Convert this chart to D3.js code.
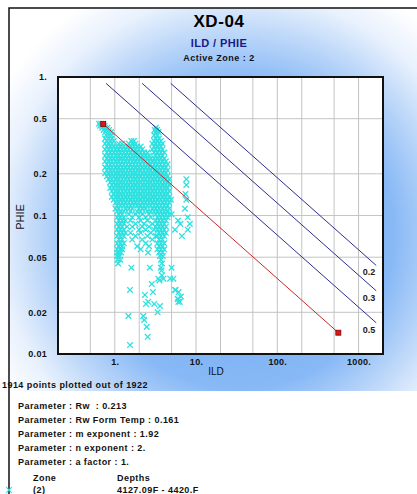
<!DOCTYPE html>
<html><head><meta charset="utf-8">
<script src="https://cdn.jsdelivr.net/npm/d3@7"></script>
<style>
body{margin:0;background:#fff}
svg{display:block;font-family:"Liberation Sans",Arial,sans-serif}
text{white-space:pre}
</style>
</head><body>
<svg id="c" width="417" height="494"></svg>
<script>
// ---------- data ----------
const chartTitle = "XD-04";
const chartSubtitle = "ILD / PHIE";
const activeZone = "Active Zone : 2";
const xLabel = "ILD";
const yLabel = "PHIE";
const xGridValues = [0.5, 1, 2, 5, 10, 20, 50, 100, 200, 500, 1000];
const yGridValues = [0.5, 0.2, 0.1, 0.05, 0.02];
const xTickValues = [1, 10, 100, 1000];
const xTickLabels = ["1.", "10.", "100.", "1000."];
const yTickValues = [1, 0.5, 0.2, 0.1, 0.05, 0.02, 0.01];
const yTickLabels = ["1.", "0.5", "0.2", "0.1", "0.05", "0.02", "0.01"];

// saturation lines (Sw) : start and end points [ILD, PHIE]
const satLabels = ["0.2", "0.3", "0.5"];
const satStart = [[4.88, 0.90], [2.17, 0.90], [0.78, 0.90]];
const satEnd = [[1650, 0.0436], [1650, 0.0286], [1650, 0.0168]];
// water line (Sw = 1)
const waterLine = [[0.72, 0.458], [564, 0.01425]];

// scatter points, grouped by PHIE: [PHIE, [ILD values]]
const cloudRows = [
  [0.46, [0.64, 0.68, 0.72]],
  [0.445, [0.66, 0.70, 0.75]],
  [0.43, [0.70, 0.76, 0.81, 3.2]],
  [0.415, [0.73, 0.79, 0.85, 3.1, 3.3]],
  [0.40, [0.76, 0.84, 0.90, 3.19, 3.45]],
  [0.38, [0.78, 0.85, 0.91, 3.05, 3.35]],
  [0.36, [0.76, 0.84, 0.92, 3.19, 3.51]],
  [0.345, [0.80, 0.88, 0.97, 1.60, 1.72, 3.05, 3.35, 3.69]],
  [0.33, [0.76, 0.84, 0.92, 1.12, 1.23, 1.49, 1.64, 1.80, 2.90, 3.19, 3.51, 3.86]],
  [0.315, [0.80, 0.88, 0.97, 1.07, 1.17, 1.29, 1.42, 1.56, 1.72, 1.89, 2.08, 3.05, 3.35, 3.69]],
  [0.30, [0.76, 0.84, 0.92, 1.02, 1.12, 1.23, 1.35, 1.49, 1.64, 1.80, 1.98, 2.18, 2.90, 3.19, 3.51, 3.86]],
  [0.285, [0.80, 0.88, 0.97, 1.07, 1.17, 1.29, 1.42, 1.56, 1.72, 1.89, 2.08, 2.29, 2.52, 3.05, 3.35, 3.69, 4.06]],
  [0.27, [0.76, 0.84, 0.92, 1.02, 1.12, 1.23, 1.35, 1.49, 1.64, 1.80, 1.98, 2.18, 2.40, 2.64, 3.19, 3.51, 3.86]],
  [0.258, [0.80, 0.88, 0.97, 1.07, 1.17, 1.29, 1.42, 1.56, 1.72, 1.89, 2.08, 2.29, 2.52, 2.77, 3.05, 3.35, 3.69, 4.06]],
  [0.246, [0.76, 0.84, 0.92, 1.02, 1.12, 1.23, 1.35, 1.49, 1.64, 1.80, 1.98, 2.18, 2.40, 2.64, 2.90, 3.19, 3.51, 3.86, 4.25]],
  [0.234, [0.80, 0.88, 0.97, 1.07, 1.17, 1.29, 1.42, 1.56, 1.72, 1.89, 2.08, 2.29, 2.52, 2.77, 3.05, 3.35, 3.69, 4.06, 4.46]],
  [0.222, [0.76, 0.84, 0.92, 1.02, 1.12, 1.23, 1.35, 1.49, 1.64, 1.80, 1.98, 2.18, 2.40, 2.64, 2.90, 3.19, 3.51, 3.86, 4.25]],
  [0.212, [0.80, 0.88, 0.97, 1.07, 1.17, 1.29, 1.42, 1.56, 1.72, 1.89, 2.08, 2.29, 2.52, 2.77, 3.05, 3.35, 3.69, 4.06, 4.46]],
  [0.202, [0.76, 0.84, 0.92, 1.02, 1.12, 1.23, 1.35, 1.49, 1.64, 1.80, 1.98, 2.18, 2.40, 2.64, 2.90, 3.19, 3.51, 3.86, 4.25]],
  [0.192, [0.80, 0.88, 0.97, 1.07, 1.17, 1.29, 1.42, 1.56, 1.72, 1.89, 2.08, 2.29, 2.52, 2.77, 3.05, 3.35, 3.69, 4.06, 4.46]],
  [0.183, [0.84, 0.92, 1.02, 1.12, 1.23, 1.35, 1.49, 1.64, 1.80, 1.98, 2.18, 2.40, 2.64, 2.90, 3.19, 3.51, 3.86, 4.25, 4.67, 7.6]],
  [0.174, [0.88, 0.97, 1.07, 1.17, 1.29, 1.42, 1.56, 1.72, 1.89, 2.08, 2.29, 2.52, 2.77, 3.05, 3.35, 3.69, 4.06, 4.46]],
  [0.166, [0.92, 1.02, 1.12, 1.23, 1.35, 1.49, 1.64, 1.80, 1.98, 2.18, 2.40, 2.64, 2.90, 3.19, 3.51, 3.86, 4.25, 4.67, 7.6]],
  [0.158, [0.88, 0.97, 1.07, 1.17, 1.29, 1.42, 1.56, 1.72, 1.89, 2.08, 2.29, 2.52, 2.77, 3.05, 3.35, 3.69, 4.06, 4.46]],
  [0.150, [0.92, 1.02, 1.12, 1.23, 1.35, 1.49, 1.64, 1.80, 1.98, 2.18, 2.40, 2.64, 2.90, 3.19, 3.51, 3.86, 4.25, 4.67]],
  [0.143, [0.97, 1.07, 1.17, 1.29, 1.42, 1.56, 1.72, 1.89, 2.08, 2.29, 2.52, 2.77, 3.05, 3.35, 3.69, 4.06, 4.46, 7.4]],
  [0.136, [0.92, 1.02, 1.12, 1.23, 1.35, 1.49, 1.64, 1.80, 1.98, 2.18, 2.40, 2.64, 2.90, 3.19, 3.51, 3.86, 4.25, 4.67]],
  [0.130, [0.97, 1.07, 1.17, 1.29, 1.42, 1.56, 1.72, 1.89, 2.08, 2.29, 2.52, 2.77, 3.05, 3.35, 3.69, 4.06, 4.46, 4.91, 7.6]],
  [0.124, [1.02, 1.12, 1.23, 1.35, 1.49, 1.64, 1.80, 1.98, 2.18, 2.40, 2.64, 2.90, 3.19, 3.51, 3.86, 4.25, 4.67]],
  [0.118, [1.07, 1.17, 1.29, 1.42, 1.56, 1.72, 1.89, 2.08, 2.29, 2.52, 2.77, 3.05, 3.35, 3.69, 4.06, 4.46]],
  [0.112, [1.02, 1.12, 1.35, 1.49, 1.64, 1.98, 2.18, 2.40, 2.90, 3.19, 3.51, 3.86, 4.25, 4.67, 7.3]],
  [0.107, [1.07, 1.17, 1.29, 1.56, 1.89, 2.08, 2.52, 2.77, 3.05, 3.35, 3.69, 4.06, 4.46]],
  [0.102, [1.12, 1.23, 1.49, 1.80, 2.18, 2.64, 3.19, 3.51, 3.86, 4.25, 4.67, 5.0]],
  [0.097, [1.07, 1.17, 1.29, 1.64, 1.98, 2.40, 2.77, 3.35, 3.69, 4.06, 4.46, 7.9]],
  [0.092, [1.12, 1.23, 1.35, 1.56, 2.08, 2.52, 3.19, 3.51, 3.86, 4.25, 6.0]],
  [0.087, [1.07, 1.17, 1.29, 1.80, 2.29, 2.90, 3.35, 3.69, 4.06, 6.4, 8.4]],
  [0.083, [1.12, 1.23, 1.42, 1.64, 2.18, 2.64, 3.19, 3.51, 3.86, 4.25]],
  [0.079, [1.07, 1.17, 1.29, 1.98, 2.40, 3.05, 3.35, 3.69, 4.06, 5.5, 7.9]],
  [0.075, [1.12, 1.23, 1.35, 1.56, 2.08, 2.77, 3.51, 3.86, 4.25]],
  [0.071, [1.07, 1.17, 1.29, 1.80, 2.52, 3.19, 3.35, 3.69, 4.06, 6.7]],
  [0.067, [1.12, 1.23, 1.64, 2.18, 2.90, 3.51, 3.86]],
  [0.063, [1.07, 1.17, 1.29, 2.40, 3.35, 3.69, 4.06]],
  [0.060, [1.12, 1.23, 1.89, 2.64, 3.51, 3.86]],
  [0.057, [1.07, 1.17, 1.23, 2.08, 3.35, 3.69, 4.06]],
  [0.054, [1.07, 1.12, 1.20, 2.56, 3.51, 3.86]],
  [0.051, [1.07, 1.15, 3.6, 3.9]],
  [0.048, [1.08, 1.17, 3.7]],
  [0.045, [1.10, 3.8]],
  [0.042, [1.60, 2.70, 3.7, 5.0]],
  [0.040, [3.75]],
  [0.037, [3.8]],
  [0.035, [3.43, 3.97, 4.8, 5.26]],
  [0.034, [3.55]],
  [0.032, [2.85]],
  [0.029, [1.54, 5.5, 5.6]],
  [0.028, [2.95, 6.1]],
  [0.0267, [2.35]],
  [0.026, [6.5]],
  [0.025, [5.95, 6.0]],
  [0.0238, [2.58, 6.05, 6.3]],
  [0.023, [2.42, 3.06]],
  [0.0222, [3.60]],
  [0.020, [3.37]],
  [0.0188, [1.47, 2.24]],
  [0.0176, [2.30]],
  [0.0157, [2.47]],
  [0.0133, [2.54]],
  [0.0116, [1.54]]
];

const footerCount = "1914 points plotted out of 1922";
const paramLines = [
  "Parameter : Rw  : 0.213",
  "Parameter : Rw Form Temp : 0.161",
  "Parameter : m exponent : 1.92",
  "Parameter : n exponent : 2.",
  "Parameter : a factor : 1."
];
const legendHeader = ["Zone", "Depths"];
const legendRow = ["(2)", "4127.09F - 4420.F"];

// ---------- drawing ----------
const W = 417, H = 494;
const svg = d3.select("#c");
const defs = svg.append("defs");
const grad = defs.append("radialGradient").attr("id", "bg")
  .attr("gradientUnits", "userSpaceOnUse")
  .attr("cx", 240).attr("cy", 235).attr("r", 280);
[[0, "#6aa6f2"], [0.55, "#88b9f6"], [0.72, "#bcd7f9"], [0.86, "#e8f1fd"], [1, "#ffffff"]]
  .forEach(s => grad.append("stop").attr("offset", s[0]).attr("stop-color", s[1]));

svg.append("rect").attr("width", W).attr("height", H).attr("fill", "#fff");
svg.append("rect").attr("x", 9).attr("y", 8).attr("width", W - 9).attr("height", 383).attr("fill", "url(#bg)");

// outer frame (top + left)
svg.append("path").attr("d", `M9,${H}V8H${W}`).attr("fill", "none").attr("stroke", "#111").attr("stroke-width", 1.5);

// titles
svg.append("text").attr("x", 219).attr("y", 27).attr("text-anchor", "middle").attr("letter-spacing", 0.6)
  .attr("font-size", 17).attr("font-weight", "bold").attr("fill", "#000").text(chartTitle);
svg.append("text").attr("x", 219).attr("y", 47).attr("text-anchor", "middle").attr("letter-spacing", 0.4)
  .attr("font-size", 11).attr("font-weight", "bold").attr("fill", "#1a1a8a").text(chartSubtitle);
svg.append("text").attr("x", 219).attr("y", 61).attr("text-anchor", "middle").attr("letter-spacing", 0.5)
  .attr("font-size", 9).attr("font-weight", "bold").attr("fill", "#111").text(activeZone);

// scales
const L = 58, R = 383, T = 77, B = 354;
const x = d3.scaleLog().domain([0.2, 2000]).range([L, R]);
const y = d3.scaleLog().domain([0.01, 1]).range([B, T]);

const plot = svg.append("g");
plot.append("rect").attr("x", L).attr("y", T).attr("width", R - L).attr("height", B - T).attr("fill", "#fff");

// grid
plot.selectAll("line.gx").data(xGridValues).join("line").attr("class", "gx")
  .attr("x1", d => x(d)).attr("x2", d => x(d)).attr("y1", T).attr("y2", B)
  .attr("stroke", "#c4c4c4").attr("stroke-width", 1);
plot.selectAll("line.gy").data(yGridValues).join("line").attr("class", "gy")
  .attr("y1", d => y(d)).attr("y2", d => y(d)).attr("x1", L).attr("x2", R)
  .attr("stroke", "#c4c4c4").attr("stroke-width", 1);

// points
const pts = [];
cloudRows.forEach(([p, arr]) => arr.forEach(v => pts.push([v, p])));
const clip = defs.append("clipPath").attr("id", "clipPlot");
clip.append("rect").attr("x", L).attr("y", T).attr("width", R - L).attr("height", B - T);
const pg = plot.append("g").attr("clip-path", "url(#clipPlot)");
const markerPath = "M-2.8,-2.8L2.8,2.8M-2.8,2.8L2.8,-2.8";
pg.selectAll("path.pt").data(pts).join("path").attr("class", "pt")
  .attr("transform", d => `translate(${x(d[0])},${y(d[1])})`)
  .attr("d", markerPath)
  .attr("stroke", "#2fe0e0").attr("stroke-width", 1.3).attr("fill", "none");

// saturation lines
const line = d3.line().x(d => x(d[0])).y(d => y(d[1]));
satLabels.forEach((lab, i) => {
  pg.append("path").attr("d", line([satStart[i], satEnd[i]]))
    .attr("stroke", "#2e2e8e").attr("stroke-width", 1).attr("fill", "none");
  plot.append("text").attr("x", x(satEnd[i][0]) - 1).attr("y", y(satEnd[i][1]) + 10)
    .attr("text-anchor", "end").attr("font-size", 9).attr("font-weight", "bold").attr("fill", "#222").text(lab);
});
pg.append("path").attr("d", line(waterLine)).attr("stroke", "#c8282a").attr("stroke-width", 1).attr("fill", "none");
plot.selectAll("rect.wp").data(waterLine).join("rect").attr("class", "wp")
  .attr("x", d => x(d[0]) - 2.5).attr("y", d => y(d[1]) - 2.5).attr("width", 5).attr("height", 5)
  .attr("fill", "#d81818").attr("stroke", "#8a0000").attr("stroke-width", 0.8);

// frame
plot.append("rect").attr("x", L).attr("y", T).attr("width", R - L).attr("height", B - T)
  .attr("fill", "none").attr("stroke", "#111").attr("stroke-width", 2);

// axes
const yAxis = d3.axisLeft(y).tickValues(yTickValues).tickFormat((d, i) => yTickLabels[i]).tickSize(0).tickPadding(11);
const gy = svg.append("g").attr("transform", `translate(${L},0)`).call(yAxis);
const xAxis = d3.axisBottom(x).tickValues(xTickValues).tickFormat((d, i) => xTickLabels[i]).tickSize(0).tickPadding(5);
const gx = svg.append("g").attr("transform", `translate(0,${B})`).call(xAxis);
[gx, gy].forEach(g => {
  g.select(".domain").remove();
  g.selectAll("text").attr("font-size", 9).attr("font-weight", "bold").attr("fill", "#111")
    .attr("letter-spacing", 0.3).attr("font-family", "'Liberation Sans',Arial,sans-serif");
});

svg.append("text").attr("x", 216).attr("y", 375).attr("text-anchor", "middle")
  .attr("font-size", 10).attr("fill", "#111").text(xLabel);
svg.append("text").attr("transform", "translate(24,217) rotate(-90)").attr("text-anchor", "middle")
  .attr("font-size", 11).attr("fill", "#111").text(yLabel);

// footer
const fs = 9, ls = 0.45;
svg.append("text").attr("x", 2).attr("y", 388).attr("font-size", fs).attr("letter-spacing", ls)
  .attr("font-weight", "bold").attr("fill", "#111").text(footerCount);
svg.selectAll("text.param").data(paramLines).join("text").attr("class", "param")
  .attr("x", 18).attr("y", (d, i) => 409 + i * 14).attr("letter-spacing", ls)
  .attr("font-size", fs).attr("font-weight", "bold").attr("fill", "#111").text(d => d);

svg.append("text").attr("x", 33).attr("y", 481).attr("font-size", fs).attr("letter-spacing", ls).attr("font-weight", "bold").attr("fill", "#111").text(legendHeader[0]);
svg.append("text").attr("x", 117).attr("y", 481).attr("font-size", fs).attr("letter-spacing", ls).attr("font-weight", "bold").attr("fill", "#111").text(legendHeader[1]);
svg.append("path").attr("transform", "translate(9,490)").attr("d", markerPath)
  .attr("stroke", "#2fe0e0").attr("stroke-width", 1.2);
svg.append("text").attr("x", 33).attr("y", 493).attr("font-size", fs).attr("letter-spacing", ls).attr("font-weight", "bold").attr("fill", "#111").text(legendRow[0]);
svg.append("text").attr("x", 117).attr("y", 493).attr("font-size", fs).attr("letter-spacing", ls).attr("font-weight", "bold").attr("fill", "#111").text(legendRow[1]);
</script>
</body></html>
